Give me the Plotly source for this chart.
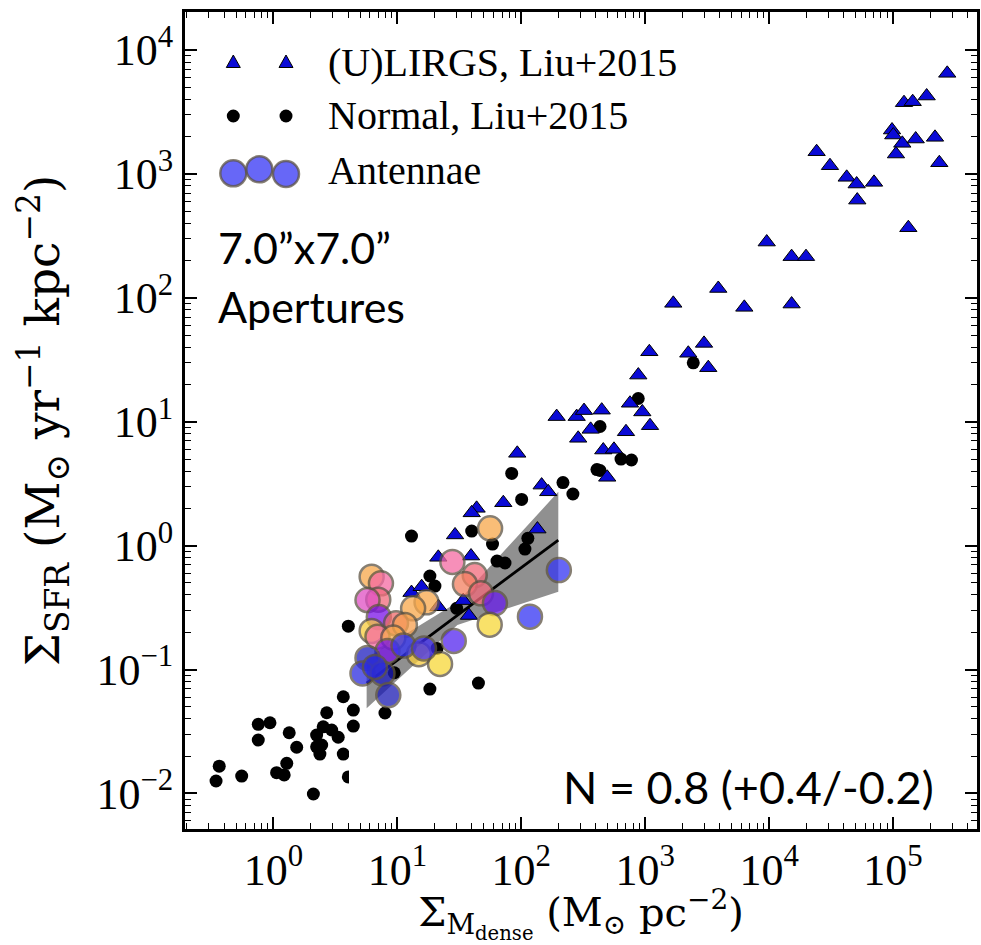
import plotly.graph_objects as go

# ---------------- data ----------------
normal_x = [4.02, 3.66, 4.41, 2.69, 4.41, 0.754, 0.937, 0.754, 1.34, 2.52, 2.95, 2.23, 3.33,
            1.54, 2.23, 2.45, 2.37, 3.66, 1.28, 1.06, 1.22, 0.365, 0.344, 0.554, 2.10, 4.02,
            13.0, 39.8, 58.6, 100.7, 217, 261, 18.3, 20.1, 30.1, 63.7, 73.9, 113, 107,
            18.3, 45.1, 7.94, 20.9, 9.44, 83.7, 432, 879, 2444, 408, 638, 775, 432]
normal_y = [0.224, 0.0603, 0.0471, 0.0448, 0.0350, 0.0361, 0.0372, 0.0270, 0.0309, 0.0345,
            0.0325, 0.0296, 0.0284, 0.0236, 0.0238, 0.0246, 0.0208, 0.0208, 0.0175, 0.0147,
            0.0141, 0.0166, 0.0126, 0.0138, 0.0099, 0.0136,
            1.195, 1.31, 1.03, 2.36, 3.23, 2.61, 0.569, 0.472, 0.312, 0.751, 0.724, 1.145, 0.939,
            0.0696, 0.0778, 0.0446, 0.148, 0.0942, 3.83, 9.15, 15.4, 29.9, 4.11, 5.0, 4.91, 4.04]

lirg_x = [274000, 187000, 122700, 144200, 98200, 100500, 118900, 152500, 218300, 105700,
          236500, 133000, 24200, 31000, 42300, 50900, 70300, 51500, 9570, 15200, 19860,
          15200, 3890, 6310, 1686, 1080, 2985, 2228, 3230, 880, 754, 948, 1094, 700, 446,
          459, 560, 193, 280, 321, 363, 288, 494, 92.8, 146, 165, 71.6, 43.6, 39.8, 29.2,
          135, 21.4, 39.3, 13.0, 15.7, 21.4, 34.0, 37.8]
lirg_y = [6486, 4254, 3758, 3828, 2261, 2061, 1766, 1913, 1974, 1448, 1231, 368, 1511, 1165,
          939, 829, 855, 615, 282, 215, 215, 89.1, 119, 83.8, 90.3, 36.7, 42.9, 35.7, 27.3,
          23.8, 14.1, 12.0, 9.29, 8.30, 12.4, 5.91, 5.99, 11.0, 11.0, 12.3, 8.68, 7.35, 3.56,
          5.56, 3.08, 2.72, 2.22, 2.00, 1.84, 1.22, 1.36, 0.805, 0.824, 0.418, 0.466, 0.321,
          0.360, 0.273]

ant_x = [56.0, 27.8, 42.1, 35.1, 47.3, 61.3, 55.6, 201, 117.5, 28.5, 22.1, 6.20, 7.37, 7.01,
         5.74, 17.2, 13.4, 7.08, 6.20, 9.75, 11.5, 6.91, 9.27, 14.9, 8.32, 11.2, 16.4, 5.74,
         5.23, 7.58, 8.45, 6.59]
ant_y = [1.38, 0.738, 0.579, 0.490, 0.412, 0.344, 0.230, 0.635, 0.267, 0.170, 0.111, 0.561,
         0.496, 0.366, 0.364, 0.349, 0.312, 0.265, 0.205, 0.236, 0.229, 0.184, 0.181, 0.133,
         0.141, 0.156, 0.148, 0.124, 0.0931, 0.0931, 0.0622, 0.105]
ant_c = [0.80, 0.55, 0.62, 0.70, 0.62, 0.25, 1.00, 0.12, 0.12, 0.20, 1.00, 0.80, 0.55, 0.62,
         0.48, 0.80, 0.80, 0.30, 0.95, 0.65, 0.78, 0.55, 0.80, 0.95, 0.30, 0.12, 0.15, 0.02,
         0.08, 0.02, 0.00, 0.08]

fit_x = [5.65, 199]
fit_y = [0.0778, 1.11]
band_x = [5.65, 30.5, 199, 199, 30.5, 5.65]
band_y = [0.124, 0.350, 2.72, 0.425, 0.229, 0.0486]

x_ticks = [1, 10, 100, 1e3, 1e4, 1e5]
x_ticktext = ["10<sup>0</sup>", "10<sup>1</sup>", "10<sup>2</sup>", "10<sup>3</sup>",
              "10<sup>4</sup>", "10<sup>5</sup>"]
y_ticks = [1e-2, 1e-1, 1, 10, 100, 1e3, 1e4]
y_ticktext = ["10<sup>−2</sup>", "10<sup>−1</sup>", "10<sup>0</sup>", "10<sup>1</sup>",
              "10<sup>2</sup>", "10<sup>3</sup>", "10<sup>4</sup>"]

legend_labels = ["(U)LIRGS, Liu+2015", "Normal, Liu+2015", "Antennae"]
note_aperture = ["7.0”x7.0”", "Apertures"]
note_slope = "N = 0.8 (+0.4/-0.2)"

# ---------------- figure ----------------
W, H = 981, 945
ML, MR, MT, MB = 185, 4, 12, 116
PW, PH = W - ML - MR, H - MT - MB


def px(x):
    return (x - ML) / PW


def py(y):
    return (H - MB - y) / PH


SERIF = "Liberation Serif, Times New Roman, serif"
WSERIF = "DejaVu Serif, serif"
SANS = "Lato, Open Sans, sans-serif"

fig = go.Figure()

fig.add_trace(go.Scatter(x=band_x, y=band_y, fill="toself", mode="lines",
                         line=dict(width=0), fillcolor="rgba(125,125,125,0.85)",
                         showlegend=False, hoverinfo="skip"))
fig.add_trace(go.Scatter(x=normal_x, y=normal_y, mode="markers",
                         marker=dict(size=13, color="black", line=dict(width=0)),
                         name=legend_labels[1], showlegend=False))
fig.add_trace(go.Scatter(x=lirg_x, y=lirg_y, mode="markers",
                         marker=dict(symbol="triangle-up", size=15, color="#0a0ad6",
                                     line=dict(width=1, color="black")),
                         name=legend_labels[0], showlegend=False))
fig.add_trace(go.Scatter(x=fit_x, y=fit_y, mode="lines",
                         line=dict(color="black", width=2.8), showlegend=False))
ant_scale = [[0.0, "#1a1ab4"], [0.12, "#3434f4"], [0.3, "#7a12e8"], [0.48, "#e050c4"],
             [0.55, "#f56aa2"], [0.65, "#f06a6a"], [0.8, "#f8a84a"], [1.0, "#f8d838"]]
fig.add_trace(go.Scatter(x=ant_x, y=ant_y, mode="markers",
                         marker=dict(size=24, color=ant_c, colorscale=ant_scale, cmin=0, cmax=1,
                                     opacity=0.75, line=dict(width=2.5, color="#5e5444")),
                         name=legend_labels[2], showlegend=False))

shapes = []
annotations = []

# white box behind the slope note
shapes.append(dict(type="rect", xref="paper", yref="paper", layer="above",
                   x0=px(349), x1=px(962), y0=py(814), y1=py(750),
                   fillcolor="white", line=dict(width=0)))

# manual legend (two/three glyphs per row, as in the original)
for cx in (233.3, 286):
    cy = 62
    shapes.append(dict(type="path", xref="paper", yref="paper", layer="above",
                       path=f"M {px(cx)},{py(cy-7)} L {px(cx-7)},{py(cy+5.5)} L {px(cx+7)},{py(cy+5.5)} Z",
                       fillcolor="#0a0ad6", line=dict(color="black", width=1)))
for cx in (233.3, 286):
    cy = 116
    r = 6.5
    shapes.append(dict(type="circle", xref="paper", yref="paper", layer="above",
                       x0=px(cx - r), x1=px(cx + r), y0=py(cy + r), y1=py(cy - r),
                       fillcolor="black", line=dict(width=0)))
for cx, cy in ((233.3, 173.3), (259.3, 169.3), (286, 174)):
    r = 13
    shapes.append(dict(type="circle", xref="paper", yref="paper", layer="above",
                       x0=px(cx - r), x1=px(cx + r), y0=py(cy + r), y1=py(cy - r),
                       fillcolor="rgba(52,52,244,0.75)", line=dict(width=2.5, color="rgba(94,84,68,0.75)")))

for label, cy in zip(legend_labels, (62, 116, 171)):
    annotations.append(dict(text=label, xref="paper", yref="paper", x=px(326), y=py(cy),
                            xanchor="left", yanchor="middle", showarrow=False,
                            font=dict(family=SERIF, size=40, color="black")))

for label, cy in zip(note_aperture, (248, 306)):
    annotations.append(dict(text=label, xref="paper", yref="paper", x=px(216), y=py(cy),
                            xanchor="left", yanchor="middle", showarrow=False,
                            font=dict(family=SANS, size=43, color="black")))

annotations.append(dict(text=note_slope, xref="paper", yref="paper", x=px(936), y=py(787),
                        xanchor="right", yanchor="middle", showarrow=False,
                        font=dict(family=SANS, size=45, color="black")))

minor_x = [m * 10 ** e for e in range(-1, 6) for m in range(2, 10)]
minor_y = [m * 10 ** e for e in range(-3, 5) for m in range(2, 10)]

axis_common = dict(type="log", showline=True, linewidth=3, linecolor="black", mirror="allticks",
                   ticks="inside", ticklen=12, tickwidth=1.5, tickcolor="black",
                   showgrid=False, zeroline=False,
                   tickfont=dict(family=SERIF, size=44, color="black"))

fig.update_xaxes(**axis_common, range=[-0.714, 5.678], tickmode="array",
                 tickvals=x_ticks, ticktext=x_ticktext,
                 minor=dict(tickmode="array", tickvals=minor_x, ticks="inside", ticklen=6,
                            tickwidth=1.2, tickcolor="black", showgrid=False),
                 title=dict(text="Σ<sub>M<sub>dense</sub></sub> (M<sub>⊙</sub> pc<sup>−2</sup>)",
                            font=dict(family=WSERIF, size=40, color="black"), standoff=12))
fig.update_yaxes(**axis_common, range=[-2.287, 4.307], tickmode="array",
                 tickvals=y_ticks, ticktext=y_ticktext,
                 minor=dict(tickmode="array", tickvals=minor_y, ticks="inside", ticklen=6,
                            tickwidth=1.2, tickcolor="black", showgrid=False),
                 title=dict(text="Σ<sub>SFR</sub> (M<sub>⊙</sub> yr<sup>−1</sup> kpc<sup>−2</sup>)",
                            font=dict(family=WSERIF, size=47, color="black"), standoff=22))

fig.update_layout(width=W, height=H, margin=dict(l=ML, r=MR, t=MT, b=MB, autoexpand=False),
                  paper_bgcolor="white", plot_bgcolor="white", showlegend=False,
                  shapes=shapes, annotations=annotations)

fig.write_html("out.html")
